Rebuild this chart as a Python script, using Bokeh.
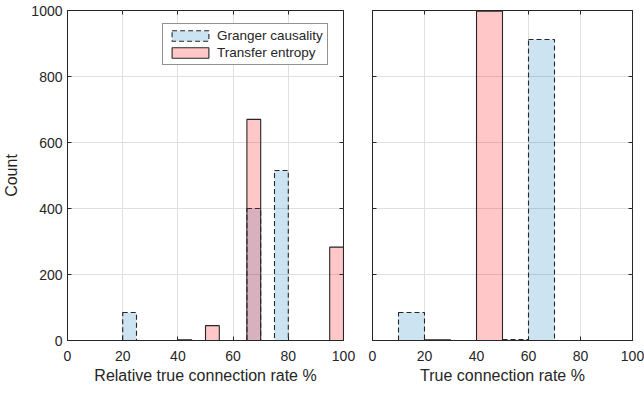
from bokeh.plotting import figure
from bokeh.layouts import row
from bokeh.models import (ColumnDataSource, Range1d, LinearAxis, FixedTicker, Legend, LegendItem,
                          CustomJSTickFormatter)
from bokeh.embed import file_html
from bokeh.resources import INLINE

# ---- data ----
left_edges = list(range(0, 105, 5))
left_granger = [None, None, None, None, 85, 0, 0, 0, 0, 0, 0, 0, 0, 400, 0, 515, None, None, None, None]
left_transfer = [None, None, None, None, None, None, None, None, 2, 0, 45, 0, 0, 670, 0, 0, 0, 0, 0, 283]

right_edges = list(range(0, 110, 10))
right_granger = [None, 85, 0, 0, 0, 3, 912, None, None, None]
right_transfer = [None, None, 2, 0, 998, None, None, None, None, None]

xticks = [0, 20, 40, 60, 80, 100]
yticks = [0, 200, 400, 600, 800, 1000]
series_names = ["Granger causality", "Transfer entropy"]

FONT = "Liberation Sans"
BLUE = "#0072bd"
RED = "#ff0000"
INK = "#262626"


def src(edges, counts):
    l, r, t = [], [], []
    for i, c in enumerate(counts):
        if c is None:
            continue
        l.append(edges[i]); r.append(edges[i + 1]); t.append(c)
    return ColumnDataSource(dict(left=l, right=r, top=t, bottom=[0] * len(t)))


def style_axis(ax):
    ax.major_tick_in = 4
    ax.major_tick_out = 0
    ax.minor_tick_line_color = None
    ax.axis_line_color = INK
    ax.major_tick_line_color = INK
    ax.major_label_text_font = FONT
    ax.major_label_text_font_size = "14px"
    ax.major_label_text_color = INK
    ax.axis_label_text_font = FONT
    ax.axis_label_text_font_size = "16px"
    ax.axis_label_text_font_style = "normal"
    ax.axis_label_text_color = INK


def tick_only_axis(ticks):
    ax = LinearAxis(ticker=FixedTicker(ticks=ticks),
                    formatter=CustomJSTickFormatter(code="return ''"))
    style_axis(ax)
    ax.axis_line_color = None
    ax.major_label_standoff = 0
    ax.major_label_text_font_size = "1px"
    return ax


def make_fig(width, height, bl, br, bt, bb, xlabel, show_ylabels):
    p = figure(width=width, height=height, output_backend="svg", toolbar_location=None,
               x_range=Range1d(0, 100), y_range=Range1d(0, 1000),
               min_border_left=bl, min_border_right=br, min_border_top=bt, min_border_bottom=bb)
    p.outline_line_color = INK
    p.outline_line_width = 1
    p.background_fill_color = "white"
    p.border_fill_color = "white"
    for ax in (p.xaxis[0], p.yaxis[0]):
        style_axis(ax)
    p.xaxis[0].ticker = FixedTicker(ticks=xticks)
    p.yaxis[0].ticker = FixedTicker(ticks=yticks)
    p.xaxis[0].axis_label = xlabel
    p.xaxis[0].axis_label_standoff = 3
    p.xaxis[0].major_label_standoff = 10
    if show_ylabels:
        p.yaxis[0].axis_label = "Count"
        p.yaxis[0].major_label_standoff = 5
        p.yaxis[0].axis_label_standoff = 8
    else:
        p.yaxis[0].formatter = CustomJSTickFormatter(code="return ''")
        p.yaxis[0].major_label_text_font_size = "1px"
        p.yaxis[0].major_label_standoff = 0
    p.add_layout(tick_only_axis(xticks), "above")
    p.add_layout(tick_only_axis(yticks), "right")
    p.xgrid.ticker = FixedTicker(ticks=xticks)
    p.ygrid.ticker = FixedTicker(ticks=yticks)
    p.grid.grid_line_color = "#dfdfdf"
    p.grid.grid_line_width = 1
    return p


# Left panel
p1 = make_fig(358, 395, 67, 15, 10, 55, "Relative true connection rate %", True)
rg = p1.quad(left="left", right="right", top="top", bottom="bottom", source=src(left_edges, left_granger),
             fill_color=BLUE, fill_alpha=0.2, line_color=INK, line_width=1.1, line_dash="5 3")
rt = p1.quad(left="left", right="right", top="top", bottom="bottom", source=src(left_edges, left_transfer),
             fill_color=RED, fill_alpha=0.22, line_color=INK, line_width=1.1)
leg = Legend(items=[LegendItem(label=series_names[0], renderers=[rg]),
                    LegendItem(label=series_names[1], renderers=[rt])],
             location=(95, 275))
leg.label_text_font = FONT
leg.label_text_font_size = "13.5px"
leg.label_text_color = INK
leg.glyph_width = 46
leg.glyph_height = 13
leg.label_height = 15
leg.label_standoff = 4
leg.padding = 4
leg.spacing = 2
leg.margin = 0
leg.border_line_color = INK
leg.border_line_width = 1
p1.add_layout(leg, "center")

# Right panel
p2 = make_fig(286, 395, 14, 12, 10, 52, "True connection rate %", False)
p2.quad(left="left", right="right", top="top", bottom="bottom", source=src(right_edges, right_granger),
        fill_color=BLUE, fill_alpha=0.2, line_color=INK, line_width=1.1, line_dash="5 3")
p2.quad(left="left", right="right", top="top", bottom="bottom", source=src(right_edges, right_transfer),
        fill_color=RED, fill_alpha=0.22, line_color=INK, line_width=1.1)

layout = row(p1, p2)
open("out.html", "w").write(file_html(layout, INLINE))
